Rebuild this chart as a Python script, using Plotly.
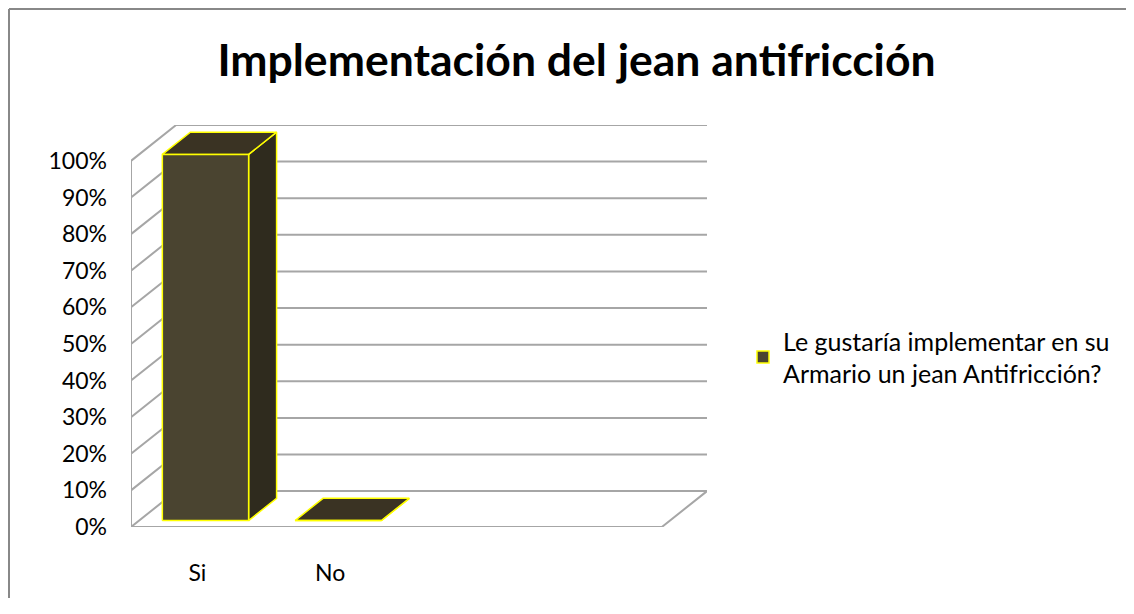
"""Excel-style 3D column chart: Implementación del jean antifricción."""

import plotly.graph_objects as go

CATEGORIES = ['Si', 'No']
VALUES = [1.0, 0.0]
SERIES_NAME = 'Le gustaría implementar en su<br>Armario un jean Antifricción?'
TITLE = 'Implementación del jean antifricción'
Y_TICKS = [0.0, 0.1, 0.2, 0.3, 0.4, 0.5, 0.6, 0.7, 0.8, 0.9, 1.0]

N_SLOTS = 4           # category slots on the floor (2 used)
DX = 0.34             # depth offset in x units
DY = 0.098            # depth offset in y units
BAR_W = 0.65
F0, F1 = 0.18, 0.80   # bar depth front/back fractions

FRONT = '#4a4430'
SIDE = '#2f2b1e'
TOP = '#3a3323'
EDGE = '#ffff00'
GRID = '#a6a6a6'
FONT = 'Lato'

PAGE = 8              # browser body margin
W, H = 1134 - 2 * PAGE, 590
L, T = 131 - PAGE, 125 - PAGE
R, B = W - (707 - PAGE), H - (527 - PAGE)


def px_x(p):
    return (p - PAGE - L) / (W - L - R)


def px_y(p):
    return (H - B - (p - PAGE)) / (H - T - B)


fig = go.Figure()

# walls and gridlines
gx, gy = [], []
for v in Y_TICKS:
    gx += [-0.5, -0.5 + DX, N_SLOTS - 0.5 + DX, None]
    gy += [v, v + DY, v + DY, None]
gx += [-0.5, -0.5, None, -0.5, N_SLOTS - 0.5, N_SLOTS - 0.5 + DX, None]
gy += [1.0, 0.0, None, 0.0, 0.0, DY, None]
fig.add_trace(go.Scatter(x=gx, y=gy, mode='lines', line=dict(color=GRID, width=2),
                         hoverinfo='skip', showlegend=False))

# 3D bars
ddx, ddy = (F1 - F0) * DX, (F1 - F0) * DY
for i, (cat, v) in enumerate(zip(CATEGORIES, VALUES)):
    xl = i - BAR_W / 2 + F0 * DX
    xr = xl + BAR_W
    yb = F0 * DY
    yt = v + F0 * DY
    faces = [
        ([xr, xr + ddx, xr + ddx, xr, xr], [yb, yb + ddy, yt + ddy, yt, yb], SIDE),
        ([xl, xr, xr + ddx, xl + ddx, xl], [yt, yt, yt + ddy, yt + ddy, yt], TOP),
        ([xl, xr, xr, xl, xl], [yb, yb, yt, yt, yb], FRONT),
    ]
    for fx, fy, col in faces:
        fig.add_trace(go.Scatter(
            x=fx, y=fy, mode='lines', fill='toself', fillcolor=col,
            line=dict(color=EDGE, width=1.5), showlegend=False,
            hovertemplate=f'{cat}: {v:.0%}<extra></extra>',
        ))

# legend entry
fig.add_trace(go.Scatter(
    x=[None], y=[None], mode='markers', name=SERIES_NAME,
    marker=dict(symbol='square', size=12, color=FRONT, line=dict(color=EDGE, width=1.5)),
))

border = dict(type='line', xref='paper', yref='paper',
              line=dict(color='#888888', width=2), layer='below')

fig.update_layout(
    width=W, height=H,
    margin=dict(l=L, r=R, t=T, b=B, autoexpand=False),
    paper_bgcolor='white', plot_bgcolor='white',
    font=dict(family=FONT, color='black'),
    title=dict(text=f'<b>{TITLE}</b>', xref='paper', x=px_x(576.5), xanchor='center',
               y=1 - (60 - PAGE) / H, yanchor='middle',
               font=dict(family=FONT, size=44.5, color='black')),
    xaxis=dict(range=[-0.5, N_SLOTS - 0.5 + DX], showgrid=False, zeroline=False,
               showline=False, tickvals=list(range(len(CATEGORIES))),
               ticktext=CATEGORIES, ticks='', ticklabelstandoff=30, automargin=False,
               tickfont=dict(size=23), fixedrange=True),
    yaxis=dict(range=[0, 1 + DY], showgrid=False, zeroline=False, showline=False,
               tickvals=Y_TICKS, tickformat='.0%', ticks='', ticklabelstandoff=23,
               automargin=False, tickfont=dict(size=23), fixedrange=True),
    legend=dict(x=px_x(743), y=px_y(357), xanchor='left', yanchor='middle',
                font=dict(size=25), bgcolor='rgba(0,0,0,0)'),
    shapes=[
        dict(border, x0=px_x(PAGE + 1), y0=px_y(PAGE + 1), x1=px_x(PAGE + 1), y1=px_y(PAGE + H)),
        dict(border, x0=px_x(PAGE + 1), y0=px_y(PAGE + 1), x1=px_x(PAGE + W), y1=px_y(PAGE + 1)),
    ],
    showlegend=True,
)

fig.write_html('out.html')
